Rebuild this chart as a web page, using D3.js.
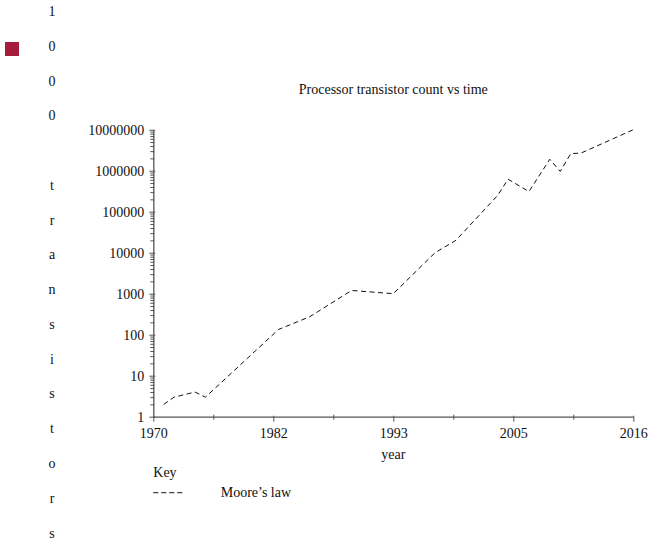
<!DOCTYPE html>
<html>
<head>
<meta charset="utf-8">
<script src="https://cdn.jsdelivr.net/npm/d3@7"></script>
<style>
  body { margin: 0; background: #fff; }
  text { font-family: "Liberation Serif", "DejaVu Serif", serif; font-size: 14px; fill: #111; }
</style>
</head>
<body>
<div id="chart"></div>
<script>
// data (transistor counts in thousands)
var years = [1971, 1972, 1974, 1975, 1982, 1985, 1989, 1993, 1997, 1999, 2003, 2004, 2006, 2008, 2009, 2010, 2011, 2016];
var transistors = [2, 3, 4, 3, 134, 275, 1200, 1000, 10000, 20000, 250000, 620000, 310000, 1900000, 960000, 2600000, 2700000, 10000000];
var xTickLabels = ["1970", "1982", "1993", "2005", "2016"];
var yTickLabels = ["1", "10", "100", "1000", "10000", "100000", "1000000", "10000000"];
var yAxisTitle = "1000 transistors";
var chartTitle = "Processor transistor count vs time";
var xAxisTitle = "year";
var legendTitle = "Key";
var seriesName = "Moore\u2019s law";

// set the dimensions and margins of the graph
var margin = {top: 129.7, left: 153.3};
var width = 480;
var height = 287;

var svg = d3.select("#chart")
  .append("svg")
  .attr("width", 650)
  .attr("height", 539);

var g = svg.append("g")
  .attr("transform", "translate(" + margin.left + "," + margin.top + ")");

// scales
var x = d3.scaleLinear()
  .domain([1970, 2016])
  .range([0, width]);

var y = d3.scaleLog()
  .domain([1, 10000000])
  .range([height, 0]);

// x axis: 4 equal steps, labels rounded
var step = (2016 - 1970) / 4;
var xMajor = d3.range(5).map(function(i) { return 1970 + i * step; });
var xMinor = d3.range(4).map(function(i) { return 1970 + (i + 0.5) * step; });

var xAxis = g.append("g")
  .attr("transform", "translate(0," + height + ")")
  .call(d3.axisBottom(x).tickValues(xMajor).tickSizeInner(5).tickSizeOuter(0).tickPadding(6)
    .tickFormat(function(d, i) { return xTickLabels[i]; }));
xAxis.selectAll(".tick line").attr("y1", -1);

var xAxisMinor = g.append("g")
  .attr("transform", "translate(0," + height + ")")
  .call(d3.axisBottom(x).tickValues(xMinor).tickSize(3).tickFormat(""));
xAxisMinor.select(".domain").remove();
xAxisMinor.selectAll(".tick line").attr("y1", -2);

// y axis: powers of ten plus log minor ticks
var yMajor = yTickLabels.map(function(s) { return +s; });
var yMinor = [];
yMajor.slice(0, -1).forEach(function(p) {
  d3.range(2, 10).forEach(function(k) { yMinor.push(p * k); });
});

var yAxis = g.append("g")
  .call(d3.axisLeft(y).tickValues(yMajor).tickSizeInner(4).tickSizeOuter(0).tickPadding(5)
    .tickFormat(function(d, i) { return yTickLabels[i]; }));
yAxis.selectAll(".tick line").attr("x1", 2);

var yAxisMinor = g.append("g")
  .call(d3.axisLeft(y).tickValues(yMinor).tickSize(3).tickFormat(""));
yAxisMinor.select(".domain").remove();
yAxisMinor.selectAll(".tick line").attr("x1", 1);

svg.selectAll(".domain").attr("stroke", "#555").attr("stroke-width", 1.3);
svg.selectAll(".tick line").attr("stroke", "#555");
svg.selectAll(".tick text")
  .attr("font-family", "Liberation Serif, serif")
  .attr("font-size", 14)
  .attr("fill", "#111");

// the line
var line = d3.line()
  .x(function(d) { return x(d[0]); })
  .y(function(d) { return y(d[1]); });

g.append("path")
  .datum(d3.zip(years, transistors))
  .attr("fill", "none")
  .attr("stroke", "#111")
  .attr("stroke-width", 1)
  .attr("stroke-dasharray", "5,3.5")
  .attr("d", line);

// title and axis titles
g.append("text")
  .attr("x", width / 2)
  .attr("y", -40)
  .attr("text-anchor", "middle")
  .attr("dominant-baseline", "central")
  .text(chartTitle);

g.append("text")
  .attr("x", width / 2)
  .attr("y", height + 38)
  .attr("text-anchor", "middle")
  .attr("dominant-baseline", "central")
  .text(xAxisTitle);

// vertical y axis title, one character per row
var chars = yAxisTitle.split("");
var charY = d3.scalePoint()
  .domain(d3.range(chars.length))
  .range([11.7, 533]);
svg.append("g")
  .selectAll("text")
  .data(chars)
  .enter()
  .append("text")
    .attr("x", 52)
    .attr("y", function(d, i) { return charY(i); })
    .attr("text-anchor", "middle")
    .attr("dominant-baseline", "central")
    .text(function(d) { return d; });

// stray red square
svg.append("rect")
  .attr("x", 5)
  .attr("y", 42)
  .attr("width", 14)
  .attr("height", 14)
  .attr("fill", "#a61c3c");

// legend
var legend = g.append("g")
  .attr("transform", "translate(0," + (height + 56) + ")");
legend.append("text")
  .attr("x", 0)
  .attr("y", 0)
  .attr("dominant-baseline", "central")
  .text(legendTitle);
legend.append("line")
  .attr("x1", 0)
  .attr("x2", 29)
  .attr("y1", 20)
  .attr("y2", 20)
  .attr("stroke", "#111")
  .attr("stroke-dasharray", "5,3");
legend.append("text")
  .attr("x", 67.4)
  .attr("y", 20)
  .attr("dominant-baseline", "central")
  .text(seriesName);
</script>
</body>
</html>
